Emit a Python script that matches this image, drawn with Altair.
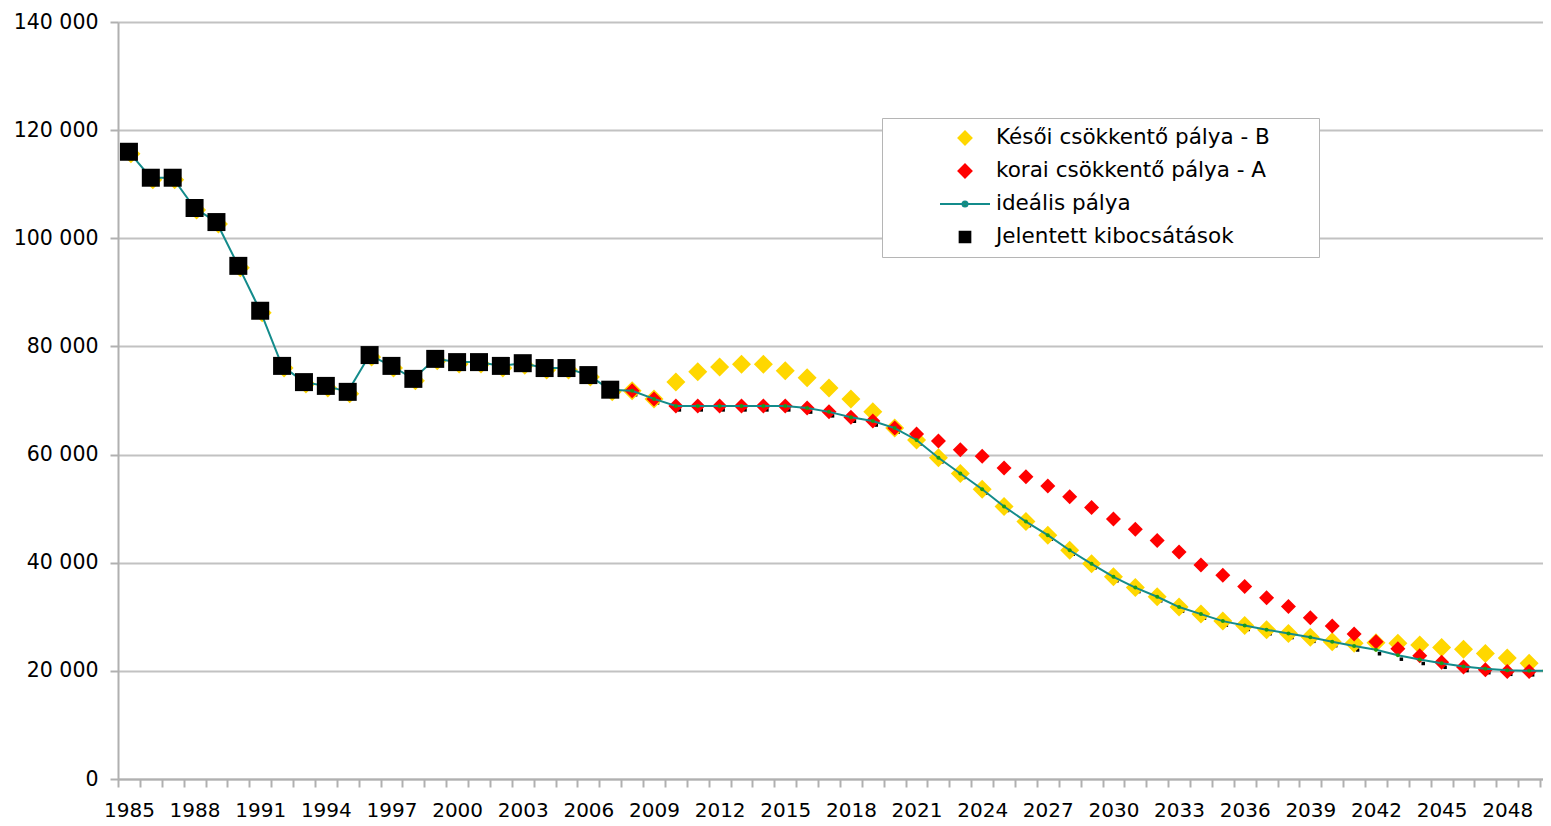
import altair as alt
import pandas as pd

# ---------------- data ----------------
NAME_B = "Késői csökkentő pálya - B"
NAME_A = "korai csökkentő pálya - A"
NAME_I = "ideális pálya"
NAME_R = "Jelentett kibocsátások"
series_names = [NAME_B, NAME_A, NAME_I, NAME_R]

years = list(range(1985, 2051))
hist_years = list(range(1985, 2008))
fc_years = list(range(2008, 2051))

reported = [116000, 111200, 111200, 105600, 103000, 94900, 86600, 76400, 73400,
            72700, 71600, 78400, 76400, 74000, 77700, 77100, 77100, 76400, 76900,
            76000, 76000, 74700, 72000]

ideal_fc = [71800, 70300, 69000, 69000, 69000, 69000, 69000, 69000, 68600, 67900,
            66900, 66200, 64900, 62700, 59400, 56500, 53600, 50400, 47600, 45100,
            42300, 39800, 37400, 35400, 33700, 31800, 30500, 29200, 28400, 27600,
            26900, 26200, 25400, 24600, 23900, 22900, 22100, 21400, 20800, 20400,
            20100, 20000, 20000]

path_a = [71800, 70300, 69000, 69000, 69000, 69000, 69000, 69000, 68600, 67900,
          66900, 66200, 64900, 63800, 62500, 60900, 59700, 57500, 55900, 54200,
          52200, 50200, 48100, 46200, 44100, 42000, 39600, 37700, 35600, 33500,
          31900, 29800, 28300, 26800, 25400, 24100, 22800, 21600, 20700, 20200,
          19900, 19900, 19900]

path_b = [71800, 70300, 73400, 75300, 76200, 76700, 76700, 75500, 74200, 72300,
          70300, 67900, 64900, 62700, 59400, 56500, 53600, 50400, 47600, 45100,
          42300, 39800, 37400, 35400, 33700, 31800, 30500, 29200, 28400, 27600,
          26900, 26200, 25400, 25100, 25200, 25100, 24800, 24300, 24000, 23200,
          22400, 21400, 20000]

y_ticks = [0, 20000, 40000, 60000, 80000, 100000, 120000, 140000]
x_tick_bounds = [y - 0.5 for y in years]

# ---------------- tables ----------------
df_b_hist = pd.DataFrame({"year": hist_years, "value": reported, "series": NAME_B})
df_b_fc = pd.DataFrame({"year": fc_years, "value": path_b, "series": NAME_B})
df_a_fc = pd.DataFrame({"year": fc_years, "value": path_a, "series": NAME_A})
df_ideal = pd.DataFrame({"year": years, "value": reported + ideal_fc, "series": NAME_I})
df_ideal_fc = pd.DataFrame({"year": fc_years, "value": ideal_fc, "series": NAME_I})
df_rep_fc = pd.DataFrame({"year": fc_years, "value": ideal_fc, "series": NAME_R})
df_rep = pd.DataFrame({"year": hist_years, "value": reported, "series": NAME_R})

# ---------------- styles ----------------
FONT = "DejaVu Sans"
GOLD = "#FFD700"
RED = "#FF0000"
GREEN = "#1a9b1a"
TEAL = "#138b8b"
BLACK = "#000000"
GRID = "#c2c2c2"
AXIS = "#b0b0b0"

diamond = "M-0.26,0L0,-0.26L0.26,0L0,0.26Z"
square = "M-0.214,-0.214L0.214,-0.214L0.214,0.214L-0.214,0.214Z"
line_dot = "M-1,0L1,0M0.1,0A0.1,0.1,0,1,1,-0.1,0A0.1,0.1,0,1,1,0.1,0Z"

# trailing blank space (kept by a zero-width char) widens the legend frame on the right
legend_pad = "\u00a0" * 6 + "\u2009" + "\u200b"

leg = alt.Legend(
    title=None, orient="none", legendX=764, legendY=96, padding=3.5,
    strokeColor="#b5b5b5", fillColor="white",
    symbolSize=2500, symbolStrokeWidth=2, symbolOffset=53.5, symbolOpacity=1,
    labelOffset=5, labelFont=FONT, labelFontSize=21.5, labelColor="black",
    labelLimit=1000, rowPadding=0, clipHeight=33, columns=1,
    labelExpr="datum.label + '" + legend_pad + "'",
)

fill_enc = alt.Fill("series:N", scale=alt.Scale(domain=series_names, range=[GOLD, RED, GREEN, BLACK]), legend=leg)
stroke_enc = alt.Stroke("series:N", scale=alt.Scale(domain=series_names, range=[GOLD, RED, TEAL, BLACK]), legend=leg)
shape_enc = alt.Shape("series:N", scale=alt.Scale(domain=series_names, range=[diamond, diamond, line_dot, square]), legend=leg)

x_axis = alt.Axis(
    values=x_tick_bounds, title=None, grid=False, tickSize=8, tickColor=AXIS, tickWidth=2,
    domainColor=AXIS, domainWidth=2, labelAngle=0,
    labelExpr="(datum.value + 0.5 - 1985) % 3 == 0 ? '' + (datum.value + 0.5) : ''",
    labelOffset=10.94, labelPadding=13, labelFont=FONT, labelFontSize=20,
    labelColor="black", labelOverlap=False, labelFlush=False,
)
y_axis = alt.Axis(
    values=y_ticks, title=None, grid=True, gridColor=GRID, gridWidth=2,
    tickSize=8, tickColor=AXIS, tickWidth=2, domainColor=AXIS, domainWidth=2,
    labelExpr="replace(format(datum.value, ',d'), ',', ' ')",
    labelPadding=12, labelFont=FONT, labelFontSize=20.5, labelColor="black",
)
X = alt.X("year:Q", scale=alt.Scale(domain=[1984.5, 2050], nice=False, zero=False), axis=x_axis)
Y = alt.Y("value:Q", scale=alt.Scale(domain=[0, 140000], nice=False), axis=y_axis)


def pts(df, size, dx=0, dy=0):
    return alt.Chart(df).mark_point(
        filled=True, opacity=1, strokeWidth=0, size=size, xOffset=dx, yOffset=dy
    ).encode(x=X, y=Y, fill=fill_enc, stroke=stroke_enc, shape=shape_enc)


layer_rep_small = pts(df_rep_fc, 267, 3.5, 4)
layer_b_hist = pts(df_b_hist, 5340, 2, 2)
layer_b_fc = pts(df_b_fc, 5340)
layer_a = pts(df_a_fc, 3328)
layer_line = alt.Chart(df_ideal).mark_line(color=TEAL, strokeWidth=2).encode(x=X, y=Y)
layer_dots = alt.Chart(df_ideal_fc).mark_point(
    filled=True, opacity=1, strokeWidth=0, shape="circle", size=16
).encode(x=X, y=Y, fill=fill_enc, stroke=stroke_enc)
layer_rep = pts(df_rep, 7073)

chart = alt.layer(
    layer_rep_small, layer_b_hist, layer_b_fc, layer_a, layer_line, layer_dots, layer_rep
).properties(
    width=1433, height=757,
    autosize=alt.AutoSizeParams(type="none"),
    padding={"left": 110, "top": 14, "right": -8, "bottom": 39},
).configure_view(stroke=None)

chart.save("out.html", embed_options={"renderer": "svg", "actions": False})
